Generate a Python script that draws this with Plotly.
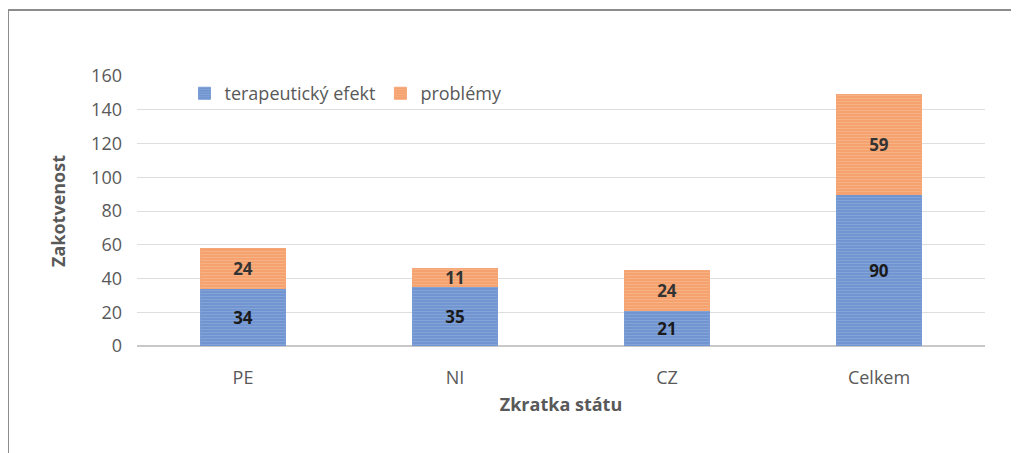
import plotly.graph_objects as go

# categories and values
staty = ["PE", "NI", "CZ", "Celkem"]
terapeuticky_efekt = [34, 35, 21, 90]
problemy = [24, 11, 24, 59]
y_ticks = [0, 20, 40, 60, 80, 100, 120, 140, 160]

FONT = "Open Sans"
GREY = "#595959"

fig = go.Figure()

fig.add_trace(go.Bar(
    x=staty,
    y=terapeuticky_efekt,
    name="terapeutický efekt",
    text=terapeuticky_efekt,
    textposition="inside",
    insidetextanchor="middle",
    textangle=0,
    constraintext="none",
    textfont=dict(family=FONT, size=17, color="#1a1a1a", weight="bold"),
    marker=dict(
        color="#6f93d0",
        line=dict(color="#7a9cd4", width=1),
        pattern=dict(shape="-", fgcolor="#9ab5e0", size=3, solidity=0.4),
    ),
))

fig.add_trace(go.Bar(
    x=staty,
    y=problemy,
    name="problémy",
    text=problemy,
    textposition="inside",
    insidetextanchor="middle",
    textangle=0,
    constraintext="none",
    textfont=dict(family=FONT, size=17, color="#333333", weight="bold"),
    marker=dict(
        color="#f4a06c",
        line=dict(color="#f5a676", width=1),
        pattern=dict(shape="-", fgcolor="#f8c29e", size=3, solidity=0.4),
    ),
))

fig.update_layout(
    barmode="stack",
    bargap=0.6,
    width=1019,
    height=445,
    margin=dict(l=129, r=42, t=68, b=107),
    paper_bgcolor="white",
    plot_bgcolor="white",
    font=dict(family=FONT, color=GREY, size=18),
    showlegend=True,
    legend=dict(
        orientation="h",
        x=0.056,
        y=0.935,
        xanchor="left",
        yanchor="middle",
        font=dict(family=FONT, size=18, color=GREY),
        bgcolor="rgba(0,0,0,0)",
        itemwidth=30,
        traceorder="normal",
    ),
    xaxis=dict(
        title=dict(text="Zkratka státu", font=dict(family=FONT, size=18, color=GREY, weight="bold"), standoff=10),
        tickfont=dict(family=FONT, size=18, color=GREY),
        ticklabelstandoff=19,
        showgrid=False,
        showline=False,
    ),
    yaxis=dict(
        title=dict(text="Zakotvenost", font=dict(family=FONT, size=18, color=GREY, weight="bold"), standoff=20),
        range=[0, 160],
        tickvals=y_ticks,
        tickfont=dict(family=FONT, size=18, color=GREY),
        ticklabelstandoff=14,
        gridcolor="#dedede",
        gridwidth=1,
        zeroline=True,
        zerolinecolor="#c8c8c8",
        zerolinewidth=1.5,
    ),
    shapes=[
        dict(type="line", xref="paper", yref="paper",
             x0=-0.1521, x1=1.06, y0=1.2444, y1=1.2444,
             line=dict(color="#8c8c8c", width=2)),
        dict(type="line", xref="paper", yref="paper",
             x0=-0.1521, x1=-0.1521, y0=1.2444, y1=-0.45,
             line=dict(color="#8c8c8c", width=2)),
    ],
)

fig.write_html("out.html")
